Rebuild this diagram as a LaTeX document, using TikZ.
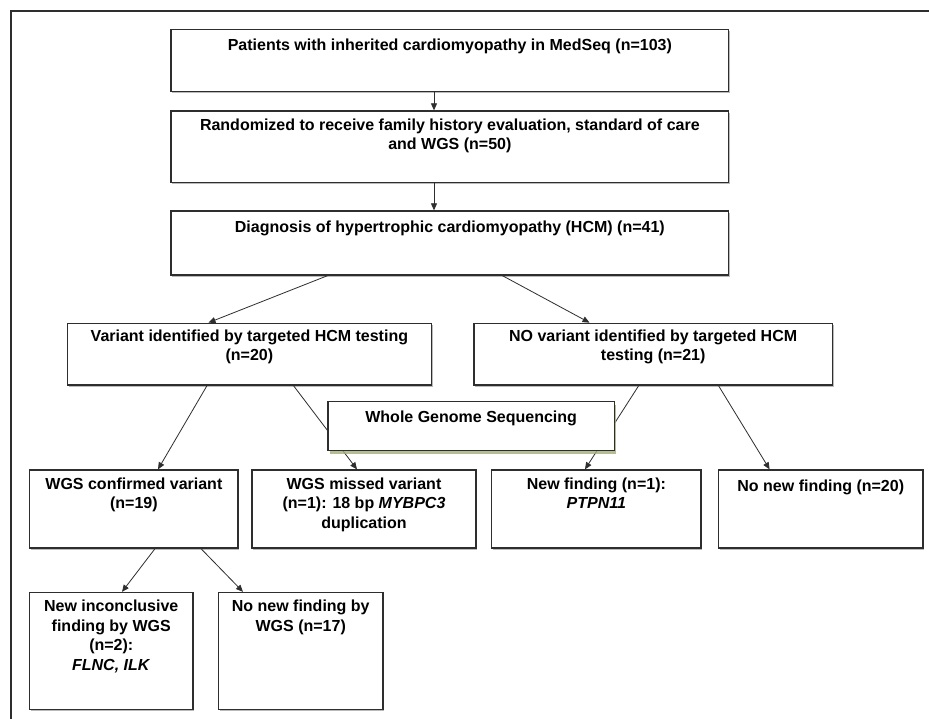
\documentclass[tikz,border=0pt]{standalone}
\usepackage{fontspec}
\setmainfont{Liberation Sans}
\usetikzlibrary{arrows.meta,fit,shadows}
\definecolor{edge}{HTML}{2E2E2E}
\definecolor{olv}{HTML}{A3AD7A}
\begin{document}
\begin{tikzpicture}[x=1pt,y=-1pt,
  box/.style={draw=edge,line width=1.3pt,fill=white,inner sep=0pt,
    drop shadow={shadow xshift=1.2pt,shadow yshift=-1.6pt,fill=black!45,opacity=.6}},
  wbox/.style={draw=edge,line width=1.3pt,fill=white,inner sep=0pt,
    drop shadow={shadow xshift=2pt,shadow yshift=-3pt,fill=olv,opacity=.8}},
  txt/.style={align=center,inner sep=0pt,anchor=north,
    font=\fontsize{16}{19.5}\selectfont\bfseries,execute at begin node=\strut},
  conn/.style={draw=edge,line width=0.8pt},
  arr/.style={conn,-{Triangle[length=7pt,width=6pt]}}]
\useasboundingbox (0,0) rectangle (929,719);
\fill[white] (0,0) rectangle (929,719);
% outer frame
\draw[edge,line width=2.2pt] (11,719) -- (11,11.3) -- (929,11.3);
% helper x positions
\coordinate (xa) at (434,0);
\coordinate (xb) at (327.6,0);
\coordinate (xc) at (208.5,0);
\coordinate (xd) at (502.4,0);
\coordinate (xe) at (589.5,0);
\coordinate (xf) at (207,0);
\coordinate (xg) at (158,0);
\coordinate (xh) at (293.5,0);
\coordinate (xi) at (357,0);
\coordinate (xj) at (638.7,0);
\coordinate (xk) at (585,0);
\coordinate (xl) at (718.5,0);
\coordinate (xm) at (769.6,0);
\coordinate (xn) at (155,0);
\coordinate (xo) at (122,0);
\coordinate (xp) at (201,0);
\coordinate (xq) at (243,0);
% boxes
\node[box,fit={(171,29.3) (728.7,91.7)}] (b1) {};
\node[box,fit={(171,111) (728.7,182.3)}] (b2) {};
\node[box,fit={(171,211) (728.7,275)}] (b3) {};
\node[box,fit={(67.5,323.3) (431.3,385)}] (b4) {};
\node[box,fit={(474,323.3) (832.3,385)}] (b5) {};
\node[box,fit={(29.8,470) (238,548)}] (c1) {};
\node[box,fit={(252,470) (476,548)}] (c2) {};
\node[box,fit={(491.7,470) (701,548)}] (c3) {};
\node[box,fit={(718.5,470) (923,548)}] (c4) {};
\node[box,fit={(29.5,592.5) (193,709.3)}] (d1) {};
\node[box,fit={(218.5,592.5) (383,709.3)}] (d2) {};
% connectors
\draw[arr] (b1.south -| xa) -- (b2.north -| xa);
\draw[arr] (b2.south -| xa) -- (b3.north -| xa);
\draw[arr] (b3.south -| xb) -- (b4.north -| xc);
\draw[arr] (b3.south -| xd) -- (b5.north -| xe);
\draw[arr] (b4.south -| xf) -- (c1.north -| xg);
\draw[arr] (b4.south -| xh) -- (c2.north -| xi);
\draw[arr] (b5.south -| xj) -- (c3.north -| xk);
\draw[arr] (b5.south -| xl) -- (c4.north -| xm);
\draw[arr] (c1.south -| xn) -- (d1.north -| xo);
\draw[arr] (c1.south -| xp) -- (d2.north -| xq);
% WGS box over the lines
\node[wbox,fit={(328,401.7) (614.3,450.7)}] (wgs) {};
% texts
\node[txt] (t1) at ([yshift=-8pt]b1.north) {Patients with inherited cardiomyopathy in MedSeq (n=103)};
\node[txt] (t2) at ([yshift=-8pt]b2.north) {Randomized to receive family history evaluation, standard of care\\and WGS (n=50)};
\node[txt] (t3) at ([yshift=-8pt]b3.north) {Diagnosis of hypertrophic cardiomyopathy (HCM) (n=41)};
\node[txt] (t4) at ([yshift=-7pt]b4.north) {Variant identified by targeted HCM testing\\(n=20)};
\node[txt] (t5) at ([yshift=-7pt]b5.north) {NO variant identified by targeted HCM\\testing (n=21)};
\node[txt] (tw) at ([yshift=-8pt]wgs.north) {Whole Genome Sequencing};
\node[txt] (t6) at ([yshift=-8pt]c1.north) {WGS confirmed variant\\(n=19)};
\node[txt] (t7) at ([yshift=-8pt]c2.north) {WGS missed variant\\(n=1): 18 bp \textit{MYBPC3}\\duplication};
\node[txt] (t8) at ([yshift=-8pt]c3.north) {New finding (n=1):\\\textit{PTPN11}};
\node[txt] (t9) at ([yshift=-8pt]c4.north) {No new finding (n=20)};
\node[txt] (t10) at ([yshift=-8pt]d1.north) {New inconclusive\\finding by WGS\\(n=2):\\\textit{FLNC, ILK}};
\node[txt] (t11) at ([yshift=-8pt]d2.north) {No new finding by\\WGS (n=17)};
\end{tikzpicture}
\end{document}
